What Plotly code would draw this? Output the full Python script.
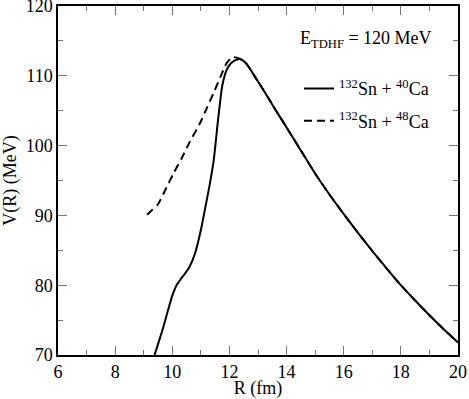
import plotly.graph_objects as go

# 132Sn + 40Ca (solid)
r_ca40 = [9.38, 9.55, 9.7, 9.85, 10.0, 10.15, 10.3, 10.45, 10.6, 10.8, 11.0, 11.15,
          11.3, 11.45, 11.6, 11.75, 11.9, 12.05, 12.2, 12.37]
v_ca40 = [70.0, 72.2, 74.2, 76.4, 78.5, 80.0, 80.9, 81.7, 82.6, 84.6, 87.9, 91.0,
          94.2, 97.9, 103.6, 108.6, 110.8, 111.8, 112.2, 112.4]

# 132Sn + 48Ca (dashed)
r_ca48 = [9.12, 9.3, 9.5, 9.75, 10.04, 10.33, 10.62, 10.97, 11.2, 11.44, 11.7,
          11.9, 12.05, 12.14, 12.25, 12.37]
v_ca48 = [90.1, 90.8, 91.6, 93.6, 96.0, 98.2, 100.6, 103.2, 105.3, 107.5, 110.0,
          111.8, 112.5, 112.65, 112.6, 112.4]

# common tail, both curves coincide beyond the barrier
r_tail = [12.6, 12.84, 13.2, 13.54, 14.0, 14.5, 15.0, 15.5, 16.0, 16.5, 17.0,
          17.5, 18.0, 18.5, 19.0, 19.5, 20.0]
v_tail = [111.7, 110.2, 107.9, 105.6, 102.6, 99.3, 96.0, 93.0, 90.2, 87.5, 84.9,
          82.4, 80.0, 77.8, 75.7, 73.7, 71.8]

font = "Liberation Serif"

fig = go.Figure()
fig.add_trace(go.Scatter(
    x=r_ca40 + r_tail, y=v_ca40 + v_tail, mode="lines",
    line=dict(color="black", width=2, shape="spline", smoothing=0.6),
    name="<sup>132</sup>Sn + <sup>40</sup>Ca", legendgroup="a",
))
fig.add_trace(go.Scatter(
    x=r_ca48 + r_tail, y=v_ca48 + v_tail, mode="lines",
    line=dict(color="black", width=2, dash="8px,5px", shape="spline", smoothing=0.6),
    name="<sup>132</sup>Sn + <sup>48</sup>Ca", legendgroup="b",
))

fig.add_annotation(
    x=0.94, y=0.905, xref="paper", yref="paper", xanchor="right", yanchor="middle",
    text="E<sub>TDHF</sub> = 120 MeV", showarrow=False,
    font=dict(family=font, size=18, color="black"),
)

axis = dict(
    showline=True, linecolor="black", linewidth=1.5, mirror="allticks",
    ticks="inside", ticklen=9, tickwidth=1, tickcolor="#777",
    showgrid=False, zeroline=False, ticklabeloverflow="allow", automargin=False,
    tickfont=dict(family=font, size=18, color="black"),
)

fig.update_xaxes(axis, range=[6, 20], dtick=2, tick0=6,
                 minor=dict(dtick=1, ticks="inside", ticklen=5, tickcolor="#777"),
                 title=dict(text="R (fm)", font=dict(family=font, size=18, color="black"),
                            standoff=2))
fig.update_yaxes(axis, range=[70, 120], dtick=10, tick0=70,
                 minor=dict(dtick=5, ticks="inside", ticklen=5, tickcolor="#777"),
                 title=dict(text="V(R) (MeV)", font=dict(family=font, size=18, color="black"),
                            standoff=4))

fig.update_layout(
    width=469, height=399,
    margin=dict(l=58, r=11, t=6, b=44),
    paper_bgcolor="white", plot_bgcolor="white",
    font=dict(family=font, size=18, color="black"),
    showlegend=True,
    legend=dict(x=0.6025, y=0.816, xanchor="left", yanchor="top",
                bgcolor="rgba(0,0,0,0)", tracegroupgap=6,
                font=dict(family=font, size=18, color="black")),
)

# drop the default page margin so the figure sits at the window's corner
fig.write_html("out.html", config={"displayModeBar": False},
               post_script="document.body.style.margin='0';")
